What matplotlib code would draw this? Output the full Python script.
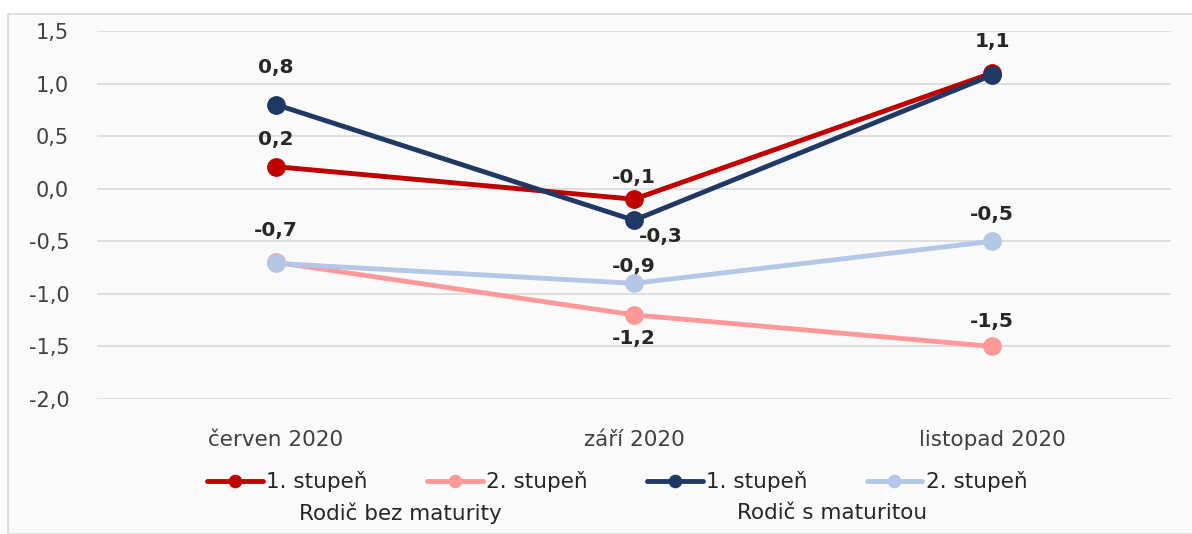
import matplotlib.pyplot as plt
import numpy as np

# data
categories = ['červen 2020', 'září 2020', 'listopad 2020']
bez_1 = [0.21, -0.1, 1.1]
bez_2 = [-0.7, -1.2, -1.5]
s_1 = [0.8, -0.3, 1.08]
s_2 = [-0.71, -0.9, -0.5]
labels_txt = [
    # (series index, point index, text, dx px, dy px)
    (0, 0, '0,2', 0, 27), (0, 1, '-0,1', 0, 22), (0, 2, '1,1', 0, 32),
    (1, 1, '-1,2', 0, -24), (1, 2, '-1,5', 0, 25),
    (2, 0, '0,8', 0, 37), (2, 1, '-0,3', 27, -16),
    (3, 0, '-0,7', 0, 33), (3, 1, '-0,9', 0, 17), (3, 2, '-0,5', 0, 27),
]

plt.rcParams['font.family'] = ['DejaVu Sans']

fig = plt.figure(figsize=(11.92, 5.34), dpi=100)
fig.patch.set_facecolor('white')
# outer chart frame
frame = plt.Rectangle((8 / 1192, 0), 1.0, 1 - 14 / 534, transform=fig.transFigure,
                      facecolor='#fafafa', edgecolor='#d9d9d9', lw=1.2, zorder=-10)
fig.patches.append(frame)

ax = fig.add_axes([97 / 1192, 1 - 399 / 534, (1171 - 97) / 1192, (399 - 31) / 534])
ax.set_facecolor('none')

x = np.arange(len(categories))
series = [bez_1, bez_2, s_1, s_2]
colors = ['#C00000', '#FF9999', '#1F3864', '#B4C7E7']
names = ['1. stupeň', '2. stupeň', '1. stupeň', '2. stupeň']
order = [3, 1, 0, 2]
lines = {}
for i in order:
    ln, = ax.plot(x, series[i], color=colors[i], lw=3.5, marker='o', ms=12.5,
                  label=names[i], zorder=3 + i, solid_capstyle='round')
    lines[i] = ln

for si, pi, t, dx, dy in labels_txt:
    ax.annotate(t, (x[pi], series[si][pi]), xytext=(dx, dy), textcoords='offset pixels',
                ha='center', va='center', fontsize=14.5, fontweight='bold', color='#262626')

ax.set_xlim(-0.5, 2.5)
ax.set_ylim(-2.0, 1.5)
ax.set_yticks(np.arange(-2.0, 1.51, 0.5))
ax.set_yticklabels([f'{v:.1f}'.replace('.', ',') for v in np.arange(-2.0, 1.51, 0.5)])
ax.set_xticks(x)
ax.set_xticklabels(categories, fontsize=15.5)
ax.tick_params(axis='both', length=0, colors='#404040')
ax.tick_params(axis='y', labelsize=15, pad=20)
ax.tick_params(axis='x', pad=22)
ax.grid(axis='y', color='#d9d9d9', lw=1.2)
ax.set_axisbelow(True)
for s in ax.spines.values():
    s.set_visible(False)

leg = fig.legend([lines[i] for i in range(4)], names, loc='center', ncol=4,
                 bbox_to_anchor=(617 / 1192, 1 - 482 / 534), frameon=False, fontsize=15.5,
                 handlelength=2.6, handletextpad=0.15, columnspacing=2.75,
                 markerscale=0.7, borderaxespad=0, borderpad=0)
for t in leg.get_texts():
    t.set_color('#262626')
fig.text(400 / 1192, 1 - 513 / 534, 'Rodič bez maturity', ha='center', va='center',
         fontsize=15.5, color='#262626')
fig.text(832 / 1192, 1 - 513 / 534, 'Rodič s maturitou', ha='center', va='center',
         fontsize=15.5, color='#262626')

fig.savefig('out.png', dpi=100)
